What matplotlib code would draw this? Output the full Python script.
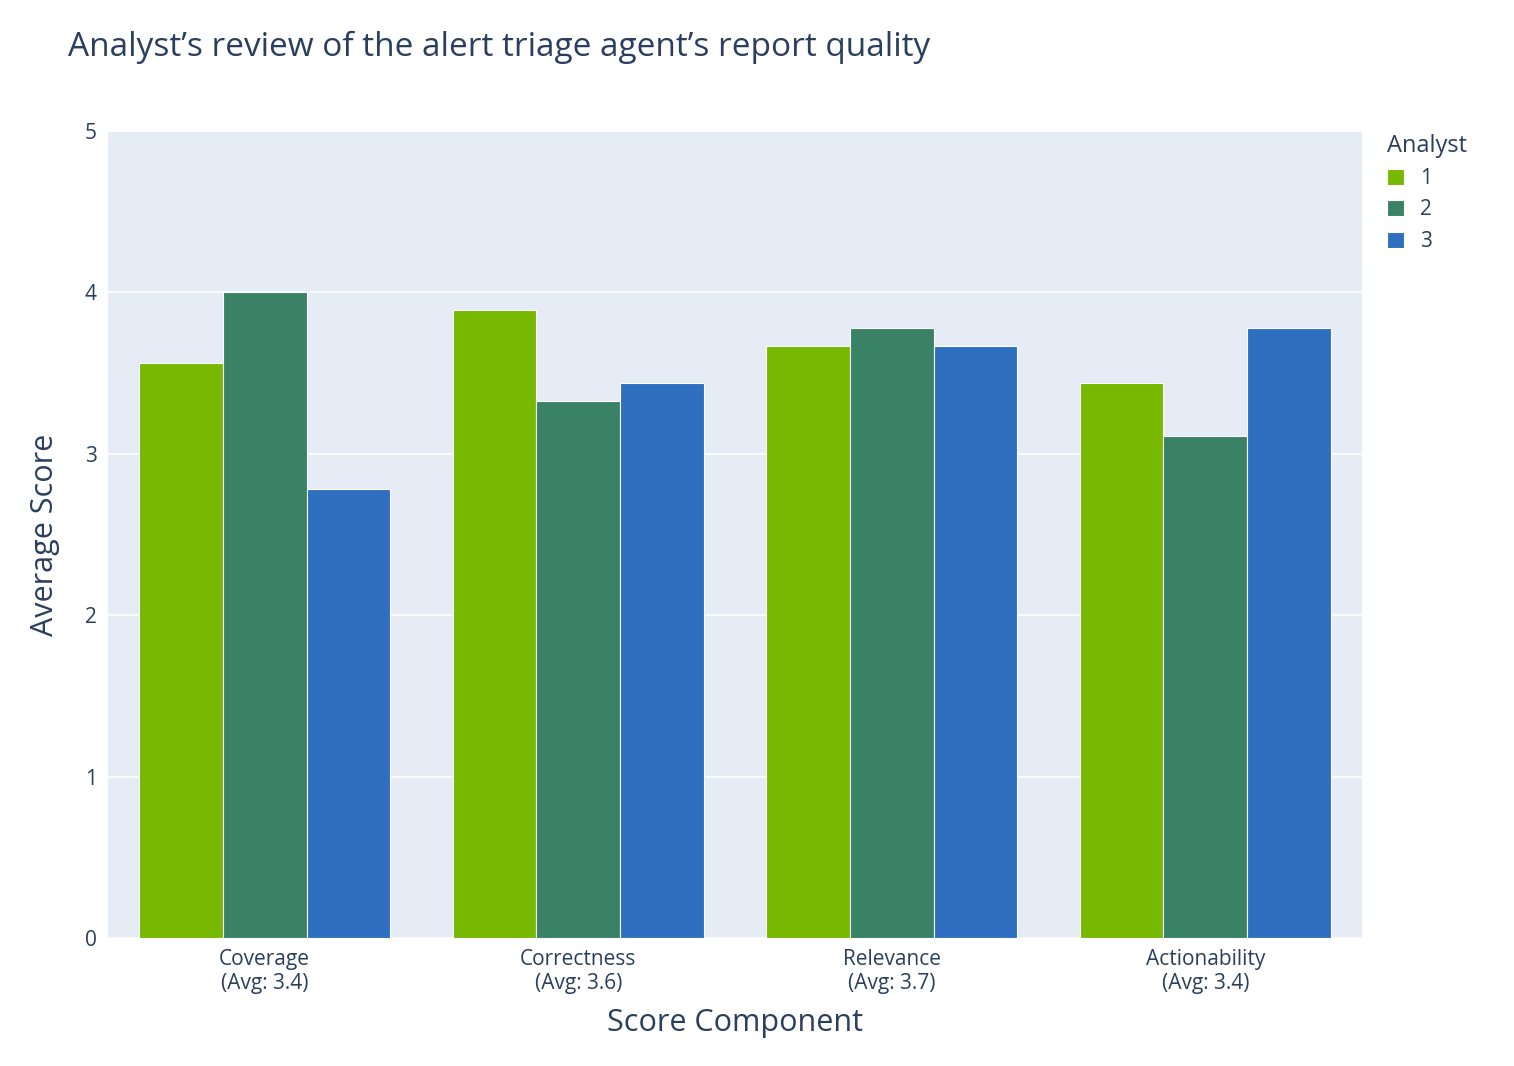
import matplotlib
matplotlib.use('Agg')
import matplotlib.pyplot as plt
import numpy as np

categories = ['Coverage\n(Avg: 3.4)', 'Correctness\n(Avg: 3.6)', 'Relevance\n(Avg: 3.7)', 'Actionability\n(Avg: 3.4)']
analysts = ['1', '2', '3']
scores_1 = [3.56, 3.89, 3.67, 3.44]
scores_2 = [4.00, 3.33, 3.78, 3.11]
scores_3 = [2.78, 3.44, 3.67, 3.78]
colors = ['#76b900', '#3a8265', '#2f6fbf']

txt = '#2a3f5f'
plt.rcParams['font.family'] = 'Open Sans'

fig = plt.figure(figsize=(15.14, 10.66), dpi=100)
ax = fig.add_axes([108/1514, 1 - 938/1066, (1362-108)/1514, (938-131)/1066])
ax.set_facecolor('#e5ecf6')

x = np.arange(len(categories))
w = 0.8 / 3
for i, (vals, c, name) in enumerate(zip([scores_1, scores_2, scores_3], colors, analysts)):
    ax.bar(x + (i - 1) * w, vals, width=w, color=c, edgecolor='white', linewidth=0.8, label=name, zorder=3)

ax.set_xlim(-0.5, 3.5)
ax.set_ylim(0, 5)
ax.set_yticks(range(6))
ax.grid(axis='y', color='white', linewidth=1.2, zorder=0)
for s in ax.spines.values():
    s.set_visible(False)
ax.tick_params(length=0, labelsize=15, colors=txt, pad=8)
ax.set_xticks(x)
ax.set_xticklabels(categories)
ax.set_xlabel('Score Component', fontsize=22, color=txt, labelpad=10)
ax.set_ylabel('Average Score', fontsize=22, color=txt, labelpad=18)

fig.text(68/1514, 1 - 47/1066, 'Analyst\u2019s review of the alert triage agent\u2019s report quality',
         fontsize=24, color=txt, va='center')

leg = ax.legend(title='Analyst', loc='upper left', bbox_to_anchor=(1.005, 1.02), frameon=False,
                fontsize=15, title_fontsize=17, handlelength=0.8, handleheight=0.8, labelcolor=txt)
leg.get_title().set_color(txt)
leg._legend_box.align = 'left'

fig.savefig('out.png', dpi=100)
